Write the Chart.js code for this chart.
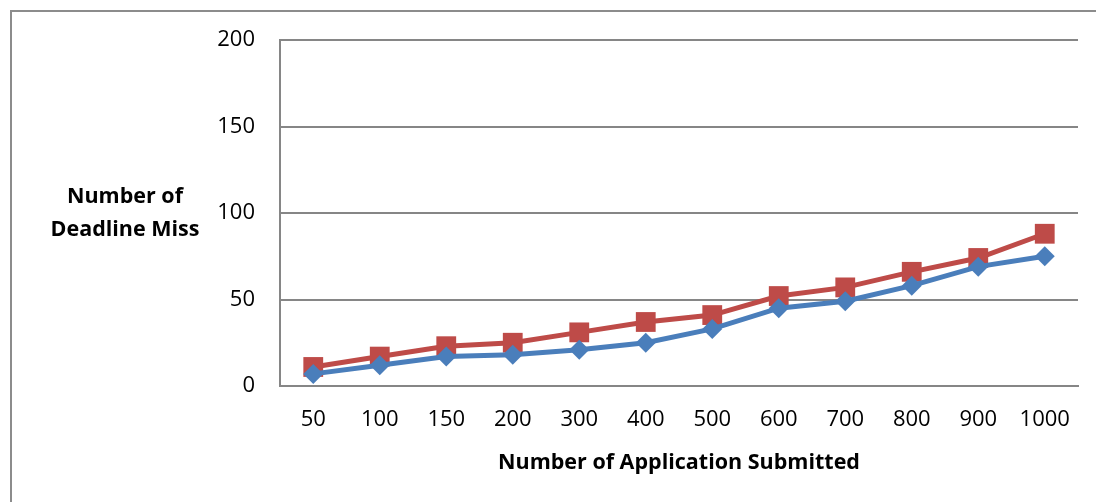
<!DOCTYPE html>
<html>
<head>
<meta charset="utf-8">
<script src="https://cdn.jsdelivr.net/npm/chart.js@4.4.1/dist/chart.umd.min.js"></script>
<style>
    html, body { margin: 0; padding: 0; background: #fff; }
    #wrap { position: relative; width: 1096px; height: 502px; overflow: hidden; }
    #frame { position: absolute; left: 10px; top: 10px; width: 1200px; height: 600px; border: 2px solid #8c8c8c; box-sizing: border-box; }
    canvas { position: absolute; left: 0; top: 0; }
</style>
</head>
<body>
<div id="wrap">
    <div id="frame"></div>
    <canvas id="missChart" width="1096" height="502"></canvas>
</div>
<script>
// Datos del gráfico
const applications = ['50', '100', '150', '200', '300', '400', '500', '600', '700', '800', '900', '1000'];
const seriesBlue = [7, 12, 17, 18, 21, 25, 33, 45, 49, 58, 69, 75];
const seriesRed = [11, 17, 23, 25, 31, 37, 41, 52, 57, 66, 74, 88];
const yTicks = [0, 50, 100, 150, 200];
const yTitleLines = ['Number of', 'Deadline Miss'];
const xTitle = 'Number of Application Submitted';

const fontFamily = '"Open Sans", Lato, sans-serif';

// Título del eje Y dibujado en horizontal
const yTitlePlugin = {
    id: 'yTitle',
    afterDraw(chart) {
        const ctx = chart.ctx;
        const area = chart.chartArea;
        const cx = area.left - 155;
        const cy = (area.top + area.bottom) / 2;
        ctx.save();
        ctx.font = 'bold 21.5px ' + fontFamily;
        ctx.fillStyle = '#000';
        ctx.textAlign = 'center';
        ctx.textBaseline = 'middle';
        ctx.fillText(yTitleLines[0], cx, cy - 16);
        ctx.fillText(yTitleLines[1], cx, cy + 17);
        ctx.restore();
    }
};

const ctx = document.getElementById('missChart').getContext('2d');
new Chart(ctx, {
    type: 'line',
    data: {
        labels: applications,
        datasets: [{
            label: 'Series 1',
            data: seriesBlue,
            borderColor: '#4a7ebb',
            backgroundColor: '#4a7ebb',
            borderWidth: 5,
            pointStyle: 'rectRot',
            pointRadius: 10,
            pointBorderWidth: 0,
            tension: 0
        }, {
            label: 'Series 2',
            data: seriesRed,
            borderColor: '#be4b48',
            backgroundColor: '#be4b48',
            borderWidth: 5,
            pointStyle: 'rect',
            pointRadius: 14,
            pointBorderWidth: 0,
            tension: 0
        }]
    },
    options: {
        responsive: false,
        animation: false,
        devicePixelRatio: 1,
        layout: { padding: { left: 0, top: 40, right: 18, bottom: 0 } },
        plugins: {
            legend: { display: false },
            tooltip: { enabled: false }
        },
        scales: {
            x: {
                offset: true,
                grid: { display: false, drawTicks: false },
                border: { display: true, color: '#868686', width: 2 },
                ticks: {
                    color: '#000',
                    font: { family: fontFamily, size: 22 },
                    padding: 21,
                    maxRotation: 0,
                    autoSkip: false
                },
                title: {
                    display: true,
                    text: xTitle,
                    color: '#000',
                    font: { family: fontFamily, size: 21.5, weight: 'bold' },
                    padding: { top: 10, bottom: 26 }
                },
                afterFit(scale) { scale.height = 116; }
            },
            y: {
                min: 0,
                max: 200,
                afterBuildTicks(scale) { scale.ticks = yTicks.map(v => ({ value: v })); },
                grid: { color: '#868686', lineWidth: 2, drawTicks: false },
                border: { display: true, color: '#868686', width: 2 },
                ticks: {
                    color: '#000',
                    font: { family: fontFamily, size: 22 },
                    padding: 25
                },
                afterFit(scale) { scale.width = 280; }
            }
        }
    },
    plugins: [yTitlePlugin]
});
</script>
</body>
</html>
